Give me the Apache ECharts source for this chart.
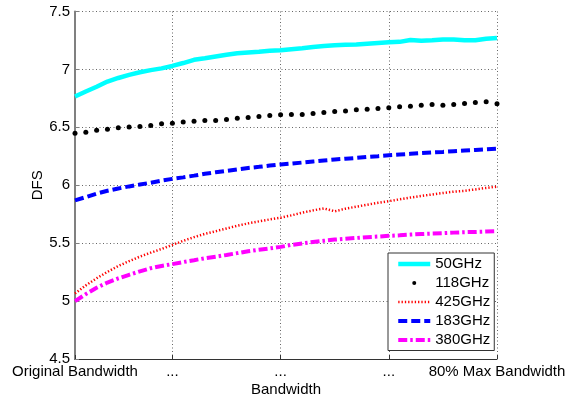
<!DOCTYPE html>
<html>
<head>
<meta charset="utf-8">
<script src="https://cdn.jsdelivr.net/npm/echarts@6/dist/echarts.min.js"></script>
<style>
html,body{margin:0;padding:0;background:#fff;}
#chart{width:571px;height:402px;}
</style>
</head>
<body>
<div id="chart"></div>
<script>
// x positions: 40 sample steps from original bandwidth to 80% max bandwidth
const categories = Array.from({length: 40}, (_, i) => String(i + 1));
const tickIndices = [0, 9, 19, 29, 39];
const tickLabels = ["Original Bandwidth", "...", "...", "...", "80% Max Bandwidth"];
const yTicks = [4.5, 5, 5.5, 6, 6.5, 7, 7.5];

const s50GHz = [6.766, 6.809, 6.850, 6.895, 6.926, 6.953, 6.975, 6.994, 7.009, 7.030,
  7.055, 7.083, 7.096, 7.111, 7.126, 7.139, 7.147, 7.153, 7.161, 7.166,
  7.175, 7.183, 7.193, 7.202, 7.208, 7.212, 7.216, 7.222, 7.228, 7.234,
  7.238, 7.254, 7.247, 7.252, 7.259, 7.258, 7.252, 7.251, 7.265, 7.272];
const s118GHz = [6.448, 6.457, 6.474, 6.483, 6.496, 6.502, 6.507, 6.516, 6.530, 6.536,
  6.545, 6.553, 6.559, 6.559, 6.567, 6.579, 6.584, 6.593, 6.602, 6.608,
  6.611, 6.611, 6.619, 6.628, 6.636, 6.642, 6.651, 6.657, 6.662, 6.668,
  6.677, 6.683, 6.691, 6.697, 6.691, 6.697, 6.705, 6.714, 6.720, 6.703];
const s425GHz = [5.065, 5.135, 5.197, 5.252, 5.303, 5.345, 5.384, 5.418, 5.450, 5.485,
  5.520, 5.552, 5.580, 5.603, 5.627, 5.650, 5.671, 5.688, 5.705, 5.720,
  5.740, 5.763, 5.783, 5.800, 5.775, 5.798, 5.815, 5.832, 5.848, 5.863,
  5.878, 5.894, 5.908, 5.920, 5.933, 5.945, 5.952, 5.964, 5.977, 5.988];
const s183GHz = [5.870, 5.898, 5.928, 5.952, 5.972, 5.990, 6.006, 6.022, 6.040, 6.055,
  6.068, 6.083, 6.099, 6.112, 6.124, 6.137, 6.149, 6.159, 6.170, 6.180,
  6.187, 6.196, 6.205, 6.214, 6.222, 6.229, 6.236, 6.244, 6.251, 6.259,
  6.265, 6.271, 6.277, 6.283, 6.288, 6.294, 6.300, 6.305, 6.311, 6.316];
const s380GHz = [5.000, 5.060, 5.115, 5.160, 5.196, 5.227, 5.257, 5.284, 5.303, 5.319,
  5.337, 5.353, 5.370, 5.383, 5.398, 5.414, 5.430, 5.443, 5.455, 5.468,
  5.485, 5.498, 5.510, 5.521, 5.531, 5.538, 5.545, 5.552, 5.557, 5.563,
  5.568, 5.574, 5.579, 5.583, 5.586, 5.591, 5.595, 5.597, 5.600, 5.603];

const FONT = "'Liberation Sans', Arial, Helvetica, sans-serif";
const isTick = (i) => tickIndices.indexOf(i) >= 0;
const dotIcon = 'path://M0 0M32 14M14 7a2 2 0 1 0 4 0a2 2 0 1 0 -4 0z';

const chart = echarts.init(document.getElementById('chart'), null, {renderer: 'canvas'});
chart.setOption({
  animation: false,
  backgroundColor: '#fff',
  textStyle: {fontFamily: FONT, color: '#000'},
  grid: {left: 75, right: 74, top: 11.5, bottom: 42, containLabel: false},
  xAxis: {
    type: 'category',
    data: categories,
    boundaryGap: false,
    name: 'Bandwidth',
    nameLocation: 'middle',
    nameGap: 23,
    nameMoveOverlap: false,
    nameTextStyle: {fontSize: 15, color: '#000', fontFamily: FONT},
    axisLine: {lineStyle: {color: '#333', width: 1}},
    axisTick: {show: true, inside: true, length: 4, interval: (i) => isTick(i), lineStyle: {color: '#333'}},
    axisLabel: {
      show: true, interval: (i) => isTick(i), fontSize: 15, color: '#000', margin: 5, fontFamily: FONT,
      formatter: (v, i) => { const k = tickIndices.indexOf(i); return k >= 0 ? tickLabels[k] : ''; }
    },
    splitLine: {show: true, interval: (i) => isTick(i) && i > 0, lineStyle: {color: '#666', width: 1, type: [1, 2.5]}}
  },
  yAxis: {
    type: 'value',
    min: yTicks[0],
    max: yTicks[yTicks.length - 1],
    interval: 0.5,
    name: 'DFS',
    nameLocation: 'middle',
    nameGap: 30,
    nameMoveOverlap: false,
    nameTextStyle: {fontSize: 15, color: '#000', fontFamily: FONT},
    axisLine: {show: true, lineStyle: {color: '#808080', width: 2}},
    axisTick: {show: true, inside: true, length: 4, lineStyle: {color: '#808080'}},
    axisLabel: {fontSize: 15, color: '#000', margin: 5, fontFamily: FONT,
      formatter: (v) => String(parseFloat(v.toFixed(2)))},
    splitLine: {show: true, lineStyle: {color: '#666', width: 1, type: [1, 2.5]}}
  },
  legend: {
    orient: 'vertical',
    left: 388,
    top: 253,
    padding: [3.5, 4, 3, 8],
    backgroundColor: '#fff',
    borderColor: '#333',
    borderWidth: 1,
    borderRadius: 0,
    itemWidth: 32,
    itemHeight: 14,
    itemGap: 4,
    itemTextGap: 3,
    textStyle: {fontSize: 15, color: '#000', fontFamily: FONT, lineHeight: 15},
    itemStyle: {opacity: 0},
    lineStyle: {width: 'inherit'},
    selectedMode: false,
    data: [
      {name: '50GHz'},
      {name: '118GHz', icon: dotIcon, itemStyle: {opacity: 1, color: '#000'}},
      {name: '425GHz'},
      {name: '183GHz'},
      {name: '380GHz'}
    ]
  },
  series: [
    {name: '50GHz', type: 'line', data: s50GHz, symbol: 'none', color: '#00FFFF',
      lineStyle: {color: '#00FFFF', width: 4.5, type: 'solid'}, z: 3},
    {name: '118GHz', type: 'line', data: s118GHz, symbol: 'circle', symbolSize: 5, showSymbol: true,
      color: '#000', itemStyle: {color: '#000'}, lineStyle: {width: 0, opacity: 0}, z: 4},
    {name: '425GHz', type: 'line', data: s425GHz, symbol: 'none', color: '#FF0000',
      lineStyle: {color: '#FF0000', width: 2.5, type: [1.3, 2]}, z: 2},
    {name: '183GHz', type: 'line', data: s183GHz, symbol: 'none', color: '#0000FF',
      lineStyle: {color: '#0000FF', width: 4, type: [9, 4]}, z: 3},
    {name: '380GHz', type: 'line', data: s380GHz, symbol: 'none', color: '#FF00FF',
      lineStyle: {color: '#FF00FF', width: 4, type: [9, 3, 2.5, 3]}, z: 3}
  ]
});
</script>
</body>
</html>
